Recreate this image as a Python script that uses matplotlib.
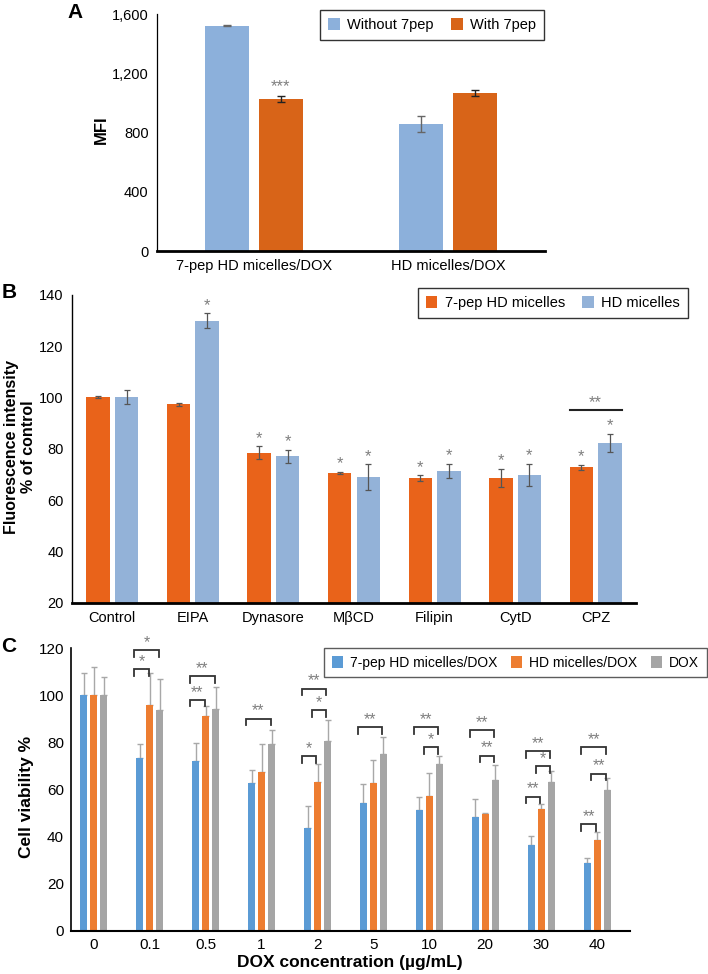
import matplotlib
matplotlib.use('Agg')
import matplotlib.pyplot as plt
from matplotlib.ticker import FuncFormatter
import numpy as np

# ---------------- Panel A data ----------------
a_categories = ['7-pep HD micelles/DOX', 'HD micelles/DOX']
a_series = ['Without 7pep', 'With 7pep']
a_without = [1522, 858]
a_without_err = [5, 55]
a_with = [1026, 1068]
a_with_err = [22, 20]
a_with_sig = ['***', '']
a_yticks = [0, 400, 800, 1200, 1600]

# ---------------- Panel B data ----------------
b_categories = ['Control', 'EIPA', 'Dynasore', 'MβCD', 'Filipin', 'CytD', 'CPZ']
b_series = ['7-pep HD micelles', 'HD micelles']
b_pep = [100.2, 97.4, 78.5, 70.7, 68.7, 68.6, 72.8]
b_pep_err = [0.3, 0.7, 2.5, 0.5, 1.0, 3.5, 0.9]
b_hd = [100.1, 130.0, 77.2, 69.0, 71.4, 69.8, 82.3]
b_hd_err = [2.7, 2.8, 2.6, 5.0, 2.8, 4.4, 3.6]
b_pep_sig = ['', '', '*', '*', '*', '*', '*']
b_hd_sig = ['', '*', '*', '*', '*', '*', '*']
b_yticks = [20, 40, 60, 80, 100, 120, 140]

# ---------------- Panel C data ----------------
c_conc = ['0', '0.1', '0.5', '1', '2', '5', '10', '20', '30', '40']
c_series = ['7-pep HD micelles/DOX', 'HD micelles/DOX', 'DOX']
c_pep = [100, 73.3, 71.9, 62.7, 43.8, 54.2, 51.3, 48.5, 36.5, 28.8]
c_pep_err = [9.2, 6.0, 7.8, 5.7, 9.4, 8.2, 5.7, 7.4, 3.9, 2.0]
c_hd = [100, 96.0, 91.0, 67.4, 63.0, 62.7, 57.4, 49.6, 51.6, 38.6]
c_hd_err = [12.0, 13.2, 4.2, 12.0, 7.8, 9.8, 9.6, 0.4, 2.3, 3.2]
c_dox = [100, 93.6, 94.2, 79.3, 80.4, 75.0, 70.9, 64.1, 63.1, 59.7]
c_dox_err = [7.8, 13.1, 9.3, 5.8, 9.2, 7.3, 3.4, 6.3, 4.9, 5.3]
# significance brackets: (group, left bar, right bar, height, label)
c_brackets = [
    (1, 0, 1, 111, '*'), (1, 0, 2, 119, '*'),
    (2, 0, 1, 98, '**'), (2, 0, 2, 108, '**'),
    (3, 0, 2, 90, '**'),
    (4, 0, 1, 74.2, '*'), (4, 1, 2, 93.5, '*'), (4, 0, 2, 102.7, '**'),
    (5, 0, 2, 86.5, '**'),
    (6, 1, 2, 77.9, '*'), (6, 0, 2, 86.5, '**'),
    (7, 1, 2, 74.3, '**'), (7, 0, 2, 85.1, '**'),
    (8, 0, 1, 57.0, '**'), (8, 1, 2, 69.8, '*'), (8, 0, 2, 76.3, '**'),
    (9, 0, 1, 45.4, '**'), (9, 1, 2, 66.7, '**'), (9, 0, 2, 78.0, '**'),
]
c_yticks = [0, 20, 40, 60, 80, 100, 120]

FONT = ['Liberation Sans', 'DejaVu Sans']
plt.rcParams['font.family'] = FONT

W, H = 708, 974
fig = plt.figure(figsize=(W / 100, H / 100), dpi=100)


def ax_rect(x0, x1, ytop, ybot):
    return [x0 / W, 1 - ybot / H, (x1 - x0) / W, (ybot - ytop) / H]


def fx(px):
    return px / W


def fy(py):
    return 1 - py / H


STAR = '#7f7f7f'

# ================= Panel A =================
axA = fig.add_axes(ax_rect(157, 545, 14, 251))
xa = np.arange(len(a_categories))
wA, offA = 0.227, 0.137
cA_blue, cA_orange = '#8cb0db', '#d86418'
axA.bar(xa - offA, a_without, wA, color=cA_blue, label=a_series[0], zorder=2)
axA.bar(xa + offA, a_with, wA, color=cA_orange, label=a_series[1], zorder=2)
axA.errorbar(xa - offA, a_without, yerr=a_without_err, fmt='none', ecolor='#666666',
             elinewidth=1, capsize=3, capthick=1, zorder=3)
axA.errorbar(xa + offA, a_with, yerr=a_with_err, fmt='none', ecolor='#222222',
             elinewidth=1, capsize=3, capthick=1, zorder=3)
for i, s in enumerate(a_with_sig):
    if s:
        axA.text(xa[i] + offA, a_with[i] + a_with_err[i] + 8, s, ha='center', va='bottom',
                 fontsize=12, color=STAR)
axA.set_xlim(-0.5, 1.5)
axA.set_ylim(0, 1600)
axA.set_yticks(a_yticks)
axA.yaxis.set_major_formatter(FuncFormatter(lambda v, p: f'{int(v):,}'))
axA.set_xticks(xa)
axA.set_xticklabels(a_categories)
axA.tick_params(axis='both', length=0, pad=6, labelsize=10.5)
axA.spines['top'].set_visible(False)
axA.spines['right'].set_visible(False)
axA.spines['left'].set_linewidth(0.9)
axA.spines['bottom'].set_linewidth(2)
fig.text(fx(101), fy(130), 'MFI', fontsize=12, fontweight='bold', rotation=90,
         ha='center', va='center')
legA = axA.legend(loc='upper right', bbox_to_anchor=(fx(544), fy(10)),
                  bbox_transform=fig.transFigure, ncol=2, frameon=True, fancybox=False,
                  edgecolor='black', handlelength=0.8, handleheight=0.9, handletextpad=0.5,
                  columnspacing=1.2, borderpad=0.55, borderaxespad=0,
                  prop={'size': 10.5})
legA.get_frame().set_linewidth(1)
fig.text(fx(75), fy(12), 'A', fontsize=15, fontweight='bold', ha='center', va='center')

# ================= Panel B =================
axB = fig.add_axes(ax_rect(72, 636, 295, 603))
xb = np.arange(len(b_categories))
wB, offB = 0.29, 0.177
cB_orange, cB_blue = '#e9631a', '#93b2d8'
axB.bar(xb - offB, b_pep, wB, bottom=0, color=cB_orange, label=b_series[0], zorder=2)
axB.bar(xb + offB, b_hd, wB, bottom=0, color=cB_blue, label=b_series[1], zorder=2)
axB.errorbar(xb - offB, b_pep, yerr=b_pep_err, fmt='none', ecolor='#555555',
             elinewidth=0.9, capsize=2.5, capthick=0.9, zorder=3)
axB.errorbar(xb + offB, b_hd, yerr=b_hd_err, fmt='none', ecolor='#555555',
             elinewidth=0.9, capsize=2.5, capthick=0.9, zorder=3)
for i in range(len(b_categories)):
    if b_pep_sig[i]:
        axB.text(xb[i] - offB, b_pep[i] + b_pep_err[i] + 0.3, b_pep_sig[i], ha='center',
                 va='bottom', fontsize=12, color=STAR)
    if b_hd_sig[i]:
        axB.text(xb[i] + offB, b_hd[i] + b_hd_err[i] + 0.3, b_hd_sig[i], ha='center',
                 va='bottom', fontsize=12, color=STAR)
# CPZ comparison line
k = len(b_categories) - 1
axB.plot([xb[k] - offB - wB / 2, xb[k] + offB + wB / 2], [95, 95], color='#222222', lw=1.5,
         zorder=3)
axB.text(xb[k], 95.3, '**', ha='center', va='bottom', fontsize=12, color=STAR)
axB.set_xlim(-0.5, 6.5)
axB.set_ylim(20, 140)
axB.set_yticks(b_yticks)
axB.set_xticks(xb)
axB.set_xticklabels(b_categories)
axB.tick_params(axis='both', length=0, pad=6, labelsize=10.5)
axB.spines['top'].set_visible(False)
axB.spines['right'].set_visible(False)
axB.spines['left'].set_linewidth(1)
axB.spines['bottom'].set_linewidth(2)
fig.text(fx(20), fy(447), 'Fluorescence intensity\n% of control', fontsize=11.5,
         fontweight='bold', rotation=90, ha='center', va='center', linespacing=1.15,
         multialignment='center')
legB = axB.legend(loc='upper right', bbox_to_anchor=(fx(688), fy(288)),
                  bbox_transform=fig.transFigure, ncol=2, frameon=True, fancybox=False,
                  edgecolor='black', handlelength=0.8, handleheight=0.9, handletextpad=0.5,
                  columnspacing=1.2, borderpad=0.55, borderaxespad=0,
                  prop={'size': 10.5})
legB.get_frame().set_linewidth(1)
fig.text(fx(9), fy(293), 'B', fontsize=15, fontweight='bold', ha='center', va='center')

# ================= Panel C =================
axC = fig.add_axes(ax_rect(71, 630, 648, 931))
xc = np.arange(len(c_conc))
wC, sC = 0.125, 0.179
cC = ['#5b9bd5', '#ed7d31', '#a5a5a5']
series_vals = [c_pep, c_hd, c_dox]
series_err = [c_pep_err, c_hd_err, c_dox_err]
for j in range(3):
    pos = xc + (j - 1) * sC
    axC.bar(pos, series_vals[j], wC, color=cC[j], label=c_series[j], zorder=2)
    err = np.array(series_err[j])
    axC.errorbar(pos, series_vals[j], yerr=[np.zeros_like(err), err], fmt='none',
                 ecolor='#a8a8a8', elinewidth=1, capsize=2, capthick=1, zorder=1)
leg_len = 2.8
for g, i, j, yv, lab in c_brackets:
    xl = g + (i - 1) * sC - 0.1
    xr = g + (j - 1) * sC - 0.02
    axC.plot([xl, xl, xr, xr], [yv - leg_len, yv, yv, yv - leg_len], color='#333333',
             lw=1.3, zorder=4, solid_joinstyle='miter')
    axC.text((xl + xr) / 2, yv + 0.1, lab, ha='center', va='bottom', fontsize=11.5,
             color=STAR, zorder=4)
axC.set_xlim(-0.41, 9.59)
axC.set_ylim(0, 120)
axC.set_yticks(c_yticks)
axC.set_xticks(xc)
axC.set_xticklabels(c_conc)
axC.tick_params(axis='both', length=0, pad=5, labelsize=11)
axC.spines['top'].set_visible(False)
axC.spines['right'].set_visible(False)
axC.spines['left'].set_linewidth(1.2)
axC.spines['bottom'].set_linewidth(1.5)
fig.text(fx(27), fy(797), 'Cell viability %', fontsize=12.5, fontweight='bold',
         rotation=90, ha='center', va='center')
fig.text(fx(350), fy(963), 'DOX concentration (µg/mL)', fontsize=12.5, fontweight='bold',
         ha='center', va='center')
legC = axC.legend(loc='upper right', bbox_to_anchor=(fx(707), fy(648)),
                  bbox_transform=fig.transFigure, ncol=3, frameon=True, fancybox=False,
                  edgecolor='#333333', handlelength=0.8, handleheight=0.9, handletextpad=0.5,
                  columnspacing=1.0, borderpad=0.55, borderaxespad=0,
                  prop={'size': 10})
legC.get_frame().set_linewidth(1)
fig.text(fx(9), fy(647), 'C', fontsize=15, fontweight='bold', ha='center', va='center')

fig.savefig('out.png', dpi=100)
